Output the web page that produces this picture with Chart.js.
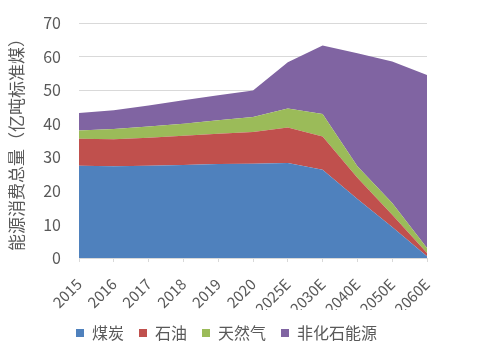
<!DOCTYPE html>
<html>
<head>
<meta charset="utf-8">
<script src="https://cdn.jsdelivr.net/npm/chart.js@4.4.0/dist/chart.umd.min.js"></script>
<style>
  html, body { margin: 0; padding: 0; background: #fff; }
  #wrap { width: 479px; height: 351px; }
</style>
</head>
<body>
<div id="wrap"><canvas id="mycanvas" width="479" height="351"></canvas></div>
<script>
// years (E = estimate)
var years = ['2015', '2016', '2017', '2018', '2019', '2020', '2025E', '2030E', '2040E', '2050E', '2060E'];
// 亿吨标准煤
var coal     = [27.5, 27.3, 27.5, 27.7, 28.0, 28.1, 28.3, 26.3, 17.6, 9.2, 0.5];
var oil      = [8.0, 8.1, 8.3, 8.7, 9.0, 9.4, 10.6, 9.9, 6.3, 3.7, 1.0];
var gas      = [2.5, 3.0, 3.4, 3.6, 4.0, 4.5, 5.6, 6.7, 3.4, 3.5, 1.5];
var nonFossil = [5.2, 5.6, 6.2, 7.0, 7.5, 7.9, 13.8, 20.4, 33.7, 42.1, 51.5];
var yTicks = [0, 10, 20, 30, 40, 50, 60, 70];

var fontFam = '"Noto Sans CJK SC", "Noto Sans", sans-serif';
var textGray = '#595959';

function area(label, data, color, fill) {
	return {
		label: label,
		data: data,
		backgroundColor: color,
		borderColor: color,
		borderWidth: 0,
		pointRadius: 0,
		pointHoverRadius: 0,
		tension: 0,
		fill: fill
	};
}

// legend in the original sits a little right of centre
var shiftLegend = {
	id: 'shiftLegend',
	afterLayout: function(chart) {
		chart.legend.left += 12;
		chart.legend.right += 12;
	}
};

var ctx = document.getElementById('mycanvas');
var chart = new Chart(ctx, {
	type: 'line',
	data: {
		labels: years,
		datasets: [
			area('煤炭', coal, '#4F81BD', 'origin'),
			area('石油', oil, '#C0504D', '-1'),
			area('天然气', gas, '#9BBB59', '-1'),
			area('非化石能源', nonFossil, '#8064A2', '-1')
		]
	},
	plugins: [shiftLegend],
	options: {
		responsive: false,
		animation: false,
		layout: { padding: { left: 2, right: 52, top: 23, bottom: 0 } },
		plugins: {
			tooltip: { enabled: false },
			legend: {
				position: 'bottom',
				labels: {
					boxWidth: 8,
					boxHeight: 8,
					padding: 15,
					color: textGray,
					font: { family: fontFam, size: 16 }
				}
			}
		},
		scales: {
			x: {
				offset: false,
				grid: { display: true, drawOnChartArea: false, drawTicks: true, tickLength: 4, color: '#D9D9D9' },
				border: { color: '#D9D9D9' },
				ticks: {
					color: textGray,
					maxRotation: 45,
					minRotation: 45,
					autoSkip: false,
					padding: 13,
					font: { family: fontFam, size: 15 }
				},
				afterFit: function(axis) {
					axis.height = 52;
					axis.paddingLeft = 0;
					axis.paddingRight = 0;
				}
			},
			y: {
				stacked: true,
				min: 0,
				max: 70,
				afterBuildTicks: function(axis) {
					axis.ticks = yTicks.map(function(v) { return { value: v }; });
				},
				afterFit: function(axis) {
					axis.width = 77;
					axis.paddingTop = 0;
					axis.paddingBottom = 0;
				},
				grid: { color: '#D9D9D9', drawTicks: false },
				border: { display: false },
				ticks: {
					color: textGray,
					padding: 18,
					font: { family: fontFam, size: 16 }
				},
				title: {
					display: true,
					text: '能源消费总量（亿吨标准煤）',
					color: textGray,
					font: { family: fontFam, size: 17 }
				}
			}
		}
	}
});
</script>
</body>
</html>
